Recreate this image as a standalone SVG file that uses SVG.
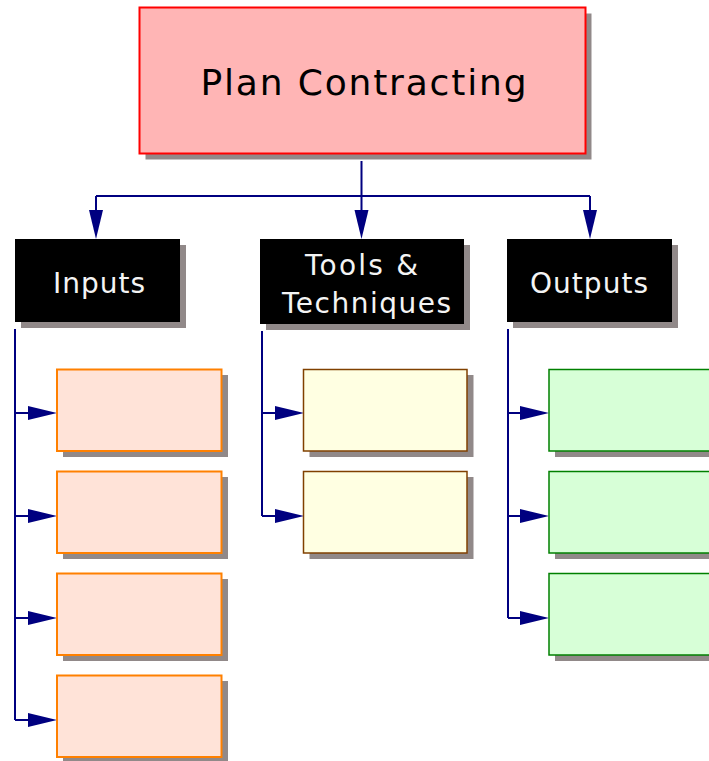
<svg xmlns="http://www.w3.org/2000/svg" width="709" height="761" viewBox="0 0 709 761">
<defs>
<style>
.sh{fill:#918989;}
.hdr{fill:#000;}
.lbl{font-family:"DejaVu Sans","Liberation Sans",sans-serif;font-size:28px;fill:#f4f4f4;text-anchor:middle;}
.in{fill:#FFE3D8;stroke:#FF8000;stroke-width:2;}
.tt{fill:#FFFFE2;stroke:#804000;stroke-width:1.5;}
.out{fill:#D7FFD7;stroke:#008000;stroke-width:1.5;}
.c{fill:none;stroke:#000080;stroke-width:2;}
</style>
<marker id="ah" markerUnits="userSpaceOnUse" markerWidth="30" markerHeight="16" refX="0" refY="7" orient="auto" overflow="visible">
<path d="M0,0 L29,7 L0,14 z" fill="#000080"/>
</marker>
</defs>
<rect width="709" height="761" fill="#fff"/>

<g id="connectors">
<path class="c" d="M361.5,161 V196 M96,196 H590"/>
<path class="c" d="M96,196 V210" marker-end="url(#ah)"/>
<path class="c" d="M361.5,196 V210" marker-end="url(#ah)"/>
<path class="c" d="M590,196 V210" marker-end="url(#ah)"/>
<path class="c" d="M15,329 V720"/>
<path class="c" d="M15,413 H28" marker-end="url(#ah)"/>
<path class="c" d="M15,516 H28" marker-end="url(#ah)"/>
<path class="c" d="M15,618 H28" marker-end="url(#ah)"/>
<path class="c" d="M15,720 H28" marker-end="url(#ah)"/>
<path class="c" d="M262,331 V516"/>
<path class="c" d="M262,413 H275" marker-end="url(#ah)"/>
<path class="c" d="M262,516 H275" marker-end="url(#ah)"/>
<path class="c" d="M508,329 V618"/>
<path class="c" d="M508,413 H520" marker-end="url(#ah)"/>
<path class="c" d="M508,516 H520" marker-end="url(#ah)"/>
<path class="c" d="M508,618 H520" marker-end="url(#ah)"/>
</g>

<g id="plan-contracting">
<rect class="sh" x="145.5" y="13.5" width="446" height="146"/>
<rect x="139.5" y="7.5" width="446" height="146" fill="#FFB5B5" stroke="#FF0000" stroke-width="2"/>
<text x="363.5" y="95" font-family="DejaVu Sans, Liberation Sans, sans-serif" font-size="36" fill="#000" text-anchor="middle" textLength="326" lengthAdjust="spacing">Plan Contracting</text>
</g>

<g id="inputs">
<rect class="sh" x="21" y="245" width="165" height="83"/>
<rect class="hdr" x="15" y="239" width="165" height="83"/>
<text class="lbl" x="99" y="293" textLength="92" lengthAdjust="spacing">Inputs</text>
</g>
<g id="tools">
<rect class="sh" x="266" y="245" width="204" height="85"/>
<rect class="hdr" x="260" y="239" width="204" height="85"/>
<text class="lbl" x="361.5" y="275" textLength="113" lengthAdjust="spacing">Tools &amp;</text>
<text class="lbl" x="366.5" y="313" textLength="169" lengthAdjust="spacing">Techniques</text>
</g>
<g id="outputs">
<rect class="sh" x="513" y="245" width="165" height="83"/>
<rect class="hdr" x="507" y="239" width="165" height="83"/>
<text class="lbl" x="589" y="293" textLength="118" lengthAdjust="spacing">Outputs</text>
</g>

<g id="input-1"><rect class="sh" x="63" y="375" width="165" height="82"/><rect class="in" x="57" y="369.5" width="164.5" height="81.5"/></g>
<g id="input-2"><rect class="sh" x="63" y="477" width="165" height="82"/><rect class="in" x="57" y="471.5" width="164.5" height="81.5"/></g>
<g id="input-3"><rect class="sh" x="63" y="579" width="165" height="82"/><rect class="in" x="57" y="573.5" width="164.5" height="81.5"/></g>
<g id="input-4"><rect class="sh" x="63" y="681" width="165" height="82"/><rect class="in" x="57" y="675.5" width="164.5" height="81.5"/></g>

<g id="tool-1"><rect class="sh" x="309.5" y="375" width="164" height="82"/><rect class="tt" x="303.5" y="369.5" width="163.5" height="81.5"/></g>
<g id="tool-2"><rect class="sh" x="309.5" y="477" width="164" height="82"/><rect class="tt" x="303.5" y="471.5" width="163.5" height="81.5"/></g>

<g id="output-1"><rect class="sh" x="555" y="375" width="165" height="82"/><rect class="out" x="549" y="369.5" width="164.5" height="81.5"/></g>
<g id="output-2"><rect class="sh" x="555" y="477" width="165" height="82"/><rect class="out" x="549" y="471.5" width="164.5" height="81.5"/></g>
<g id="output-3"><rect class="sh" x="555" y="579" width="165" height="82"/><rect class="out" x="549" y="573.5" width="164.5" height="81.5"/></g>
</svg>
